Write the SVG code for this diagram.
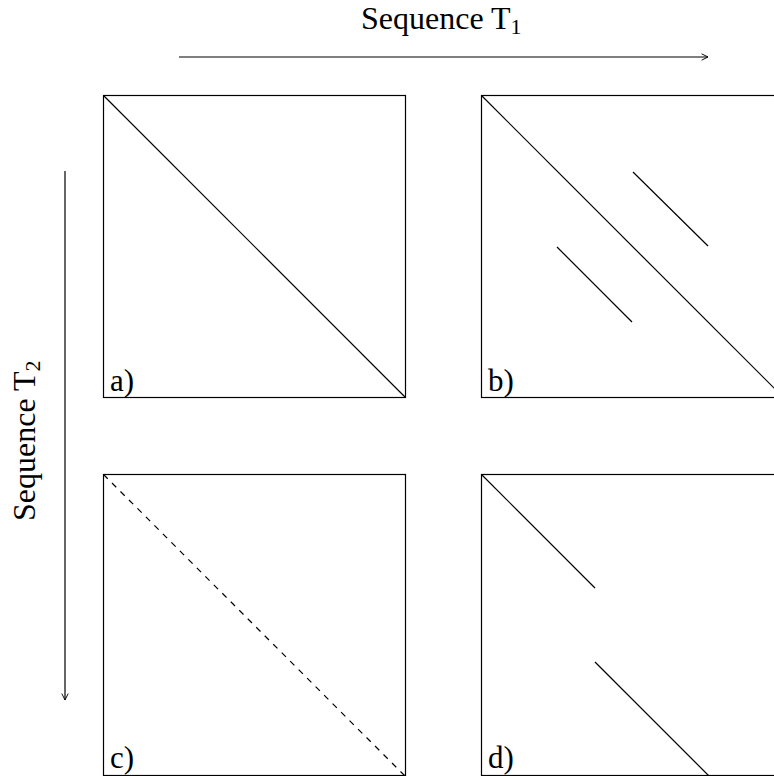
<svg xmlns="http://www.w3.org/2000/svg" width="774" height="776" viewBox="0 0 774 776">
<defs>
<style>
.box{fill:none;stroke:#000;stroke-width:1.2}
.ln{fill:none;stroke:#000;stroke-width:1.2}
.dash{stroke-dasharray:6 6}
</style>
<marker id="ah" viewBox="0 0 10 10" refX="9" refY="5" markerWidth="8" markerHeight="8" markerUnits="userSpaceOnUse" orient="auto">
<path d="M1,1 L9,5 L1,9" fill="none" stroke="#000" stroke-width="1.2"/>
</marker>
</defs>
<rect width="774" height="776" fill="#fff"/>
<g id="axes">
<line class="ln" x1="179" y1="57" x2="708" y2="57" marker-end="url(#ah)"/>
<line class="ln" x1="65" y1="171" x2="65" y2="700" marker-end="url(#ah)"/>
</g>
<g font-family="Liberation Serif" fill="#000">
<text x="361" y="29" font-size="32">Sequence T<tspan font-size="22" dy="5">1</tspan></text>
<text transform="translate(35,521) rotate(-90)" font-size="32">Sequence T<tspan font-size="22" dy="5">2</tspan></text>
</g>
<g id="a">
<rect class="box" x="103.5" y="95.5" width="302" height="302"/>
<line class="ln" x1="103.5" y1="95.5" x2="405.5" y2="397.5"/>
<text x="110" y="391" font-family="Liberation Serif" font-size="31">a)</text>
</g>
<g id="b">
<rect class="box" x="481.5" y="95.5" width="302" height="302"/>
<line class="ln" x1="481.5" y1="95.5" x2="783.5" y2="397.5"/>
<line class="ln" x1="633" y1="172" x2="708" y2="246"/>
<line class="ln" x1="557" y1="247" x2="632" y2="322"/>
<text x="488" y="391" font-family="Liberation Serif" font-size="31">b)</text>
</g>
<g id="c">
<rect class="box" x="103.5" y="474.5" width="302" height="301"/>
<line class="ln dash" x1="103.5" y1="474.5" x2="405.5" y2="776.5"/>
<text x="110" y="768" font-family="Liberation Serif" font-size="31">c)</text>
</g>
<g id="d">
<rect class="box" x="481.5" y="474.5" width="302" height="301"/>
<line class="ln" x1="481.5" y1="474.5" x2="595" y2="588"/>
<line class="ln" x1="595" y1="662" x2="709" y2="776"/>
<text x="488" y="768" font-family="Liberation Serif" font-size="31">d)</text>
</g>
</svg>
